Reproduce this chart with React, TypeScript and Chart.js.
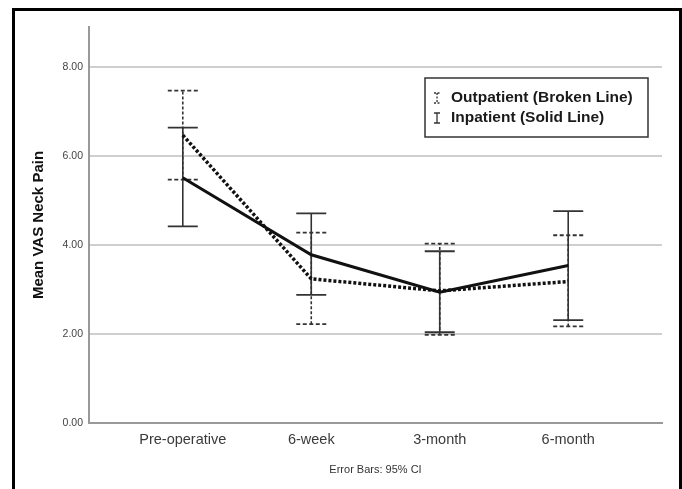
import React, { useEffect, useRef } from 'react';
import { Chart, registerables } from 'chart.js';

Chart.register(...registerables);

const categories = ['Pre-operative', '6-week', '3-month', '6-month'];
const seriesLabels = ['Outpatient (Broken Line)', 'Inpatient (Solid Line)'];
const outpatientMean = [6.47, 3.24, 2.97, 3.18];
const outpatientLower = [5.47, 2.22, 1.98, 2.17];
const outpatientUpper = [7.47, 4.28, 4.03, 4.22];
const inpatientMean = [5.51, 3.78, 2.94, 3.54];
const inpatientLower = [4.42, 2.88, 2.04, 2.31];
const inpatientUpper = [6.64, 4.71, 3.86, 4.76];
const yTicks = [0, 2, 4, 6, 8];
const yTitle = 'Mean VAS Neck Pain';
const xTitle = 'Error Bars: 95% CI';

const FONT = "'Liberation Sans', Arial, sans-serif";

const errorBarPlugin = {
  id: 'errorBars',
  beforeDatasetsDraw(chart: any) {
    const { ctx } = chart;
    const xs = chart.scales.x;
    const ys = chart.scales.y;
    const order = [1, 0];
    order.forEach((di) => {
      const ds = chart.data.datasets[di];
      const eb = ds.errorBars;
      if (!eb) return;
      ctx.save();
      ctx.strokeStyle = '#333';
      ctx.lineWidth = 1.6;
      ctx.lineCap = 'butt';
      eb.lower.forEach((lo: number, i: number) => {
        const hi = eb.upper[i];
        const x = xs.getPixelForValue(i);
        const yl = ys.getPixelForValue(lo);
        const yh = ys.getPixelForValue(hi);
        const half = 15;
        ctx.setLineDash(eb.dashed ? [3, 2] : []);
        ctx.beginPath();
        ctx.moveTo(x, yl);
        ctx.lineTo(x, yh);
        ctx.stroke();
        ctx.setLineDash(eb.dashed ? [4, 2.5] : []);
        ctx.lineWidth = 1.8;
        ctx.beginPath();
        ctx.moveTo(x - half, yl);
        ctx.lineTo(x + half, yl);
        ctx.moveTo(x - half, yh);
        ctx.lineTo(x + half, yh);
        ctx.stroke();
        ctx.lineWidth = 1.6;
      });
      ctx.restore();
    });
  },
};

const legendPlugin = {
  id: 'boxLegend',
  afterDraw(chart: any) {
    const { ctx, chartArea } = chart;
    const w = 223;
    const h = 59;
    const x0 = chartArea.right - 14 - w;
    const y0 = chartArea.top + 51;
    ctx.save();
    ctx.fillStyle = '#fff';
    ctx.fillRect(x0, y0, w, h);
    ctx.strokeStyle = '#333';
    ctx.lineWidth = 1.5;
    ctx.strokeRect(x0, y0, w, h);
    const rows = [y0 + 20, y0 + 40];
    chart.data.datasets.forEach((ds: any, i: number) => {
      const cy = rows[i];
      const ix = x0 + 12;
      ctx.strokeStyle = '#333';
      ctx.lineWidth = 1.3;
      ctx.setLineDash(ds.errorBars.dashed ? [2, 1.5] : []);
      ctx.beginPath();
      ctx.moveTo(ix, cy - 5);
      ctx.lineTo(ix, cy + 5);
      ctx.moveTo(ix - 3, cy - 5);
      ctx.lineTo(ix + 3, cy - 5);
      ctx.moveTo(ix - 3, cy + 5);
      ctx.lineTo(ix + 3, cy + 5);
      ctx.stroke();
      ctx.setLineDash([]);
      ctx.fillStyle = '#1a1a1a';
      ctx.font = `bold 15.5px ${FONT}`;
      ctx.textBaseline = 'middle';
      ctx.textAlign = 'left';
      ctx.fillText(ds.label, x0 + 26, cy);
    });
    ctx.restore();
  },
};

export default function App() {
  const canvasRef = useRef<HTMLCanvasElement | null>(null);

  useEffect(() => {
    const canvas = canvasRef.current;
    if (!canvas) return;
    const chart = new Chart(canvas, {
      type: 'line',
      data: {
        datasets: [
          {
            label: seriesLabels[0],
            data: outpatientMean.map((v, i) => ({ x: i, y: v })),
            borderColor: '#111',
            borderWidth: 3.5,
            borderDash: [3, 2],
            pointRadius: 0,
            tension: 0,
            fill: false,
            errorBars: { lower: outpatientLower, upper: outpatientUpper, dashed: true },
          } as any,
          {
            label: seriesLabels[1],
            data: inpatientMean.map((v, i) => ({ x: i, y: v })),
            borderColor: '#111',
            borderWidth: 3,
            pointRadius: 0,
            tension: 0,
            fill: false,
            errorBars: { lower: inpatientLower, upper: inpatientUpper, dashed: false },
          } as any,
        ],
      },
      options: {
        responsive: false,
        animation: false,
        devicePixelRatio: 1,
        layout: { padding: { top: 27, right: 20, left: 0, bottom: 0 } },
        plugins: {
          legend: { display: false },
          tooltip: { enabled: false },
        },
        scales: {
          x: {
            type: 'linear',
            min: -0.73,
            max: 3.73,
            afterBuildTicks: (scale: any) => {
              scale.ticks = categories.map((_, i) => ({ value: i }));
            },
            afterFit: (scale: any) => {
              scale.height = 66;
              scale.paddingLeft = 0;
              scale.paddingRight = 0;
            },
            grid: { display: false, drawTicks: false },
            border: { display: true, color: '#999', width: 2 },
            ticks: {
              padding: 8,
              color: '#3a3a3a',
              font: { family: FONT, size: 14.5 },
              maxRotation: 0,
              autoSkip: false,
              callback: (v: any) => categories[Math.round(Number(v))] ?? '',
            },
            title: {
              display: true,
              text: xTitle,
              color: '#333',
              font: { family: FONT, size: 11 },
              padding: { top: 0, bottom: 12 },
            },
          },
          y: {
            type: 'linear',
            min: 0,
            max: 8.9,
            afterBuildTicks: (scale: any) => {
              scale.ticks = yTicks.map((v) => ({ value: v }));
            },
            afterFit: (scale: any) => {
              scale.width = 89;
              scale.paddingTop = 0;
              scale.paddingBottom = 0;
            },
            grid: {
              drawTicks: false,
              lineWidth: 2,
              color: (c: any) => (c.tick && c.tick.value === 0 ? 'rgba(0,0,0,0)' : '#cfcfcf'),
            },
            border: { display: true, color: '#999', width: 2 },
            ticks: {
              padding: 6,
              color: '#444',
              font: { family: FONT, size: 10.5 },
              callback: (v: any) => Number(v).toFixed(2),
            },
            title: {
              display: true,
              text: yTitle,
              color: '#111',
              font: { family: FONT, size: 15, weight: 'bold' },
              padding: { top: 30, bottom: 0 },
            },
          },
        },
      },
      plugins: [errorBarPlugin, legendPlugin],
    } as any);
    return () => chart.destroy();
  }, []);

  return (
    <div
      style={{
        position: 'absolute',
        left: 0,
        top: 0,
        width: 682,
        height: 489,
        overflow: 'hidden',
        background: '#fff',
      }}
    >
      <canvas ref={canvasRef} width={682} height={489} style={{ display: 'block' }} />
      <div
        style={{
          position: 'absolute',
          left: 12,
          top: 8,
          width: 670,
          height: 540,
          border: '3px solid #000',
          boxSizing: 'border-box',
          pointerEvents: 'none',
        }}
      />
    </div>
  );
}
